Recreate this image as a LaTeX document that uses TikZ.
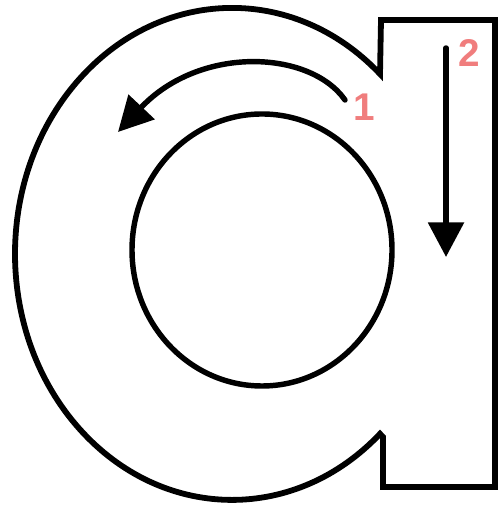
\documentclass[tikz,border=0pt]{standalone}
\usepackage{fontspec}
\setmainfont{Liberation Sans}
\usetikzlibrary{arrows.meta}
\definecolor{numred}{RGB}{240,125,125}

\begin{document}
\begin{tikzpicture}[
  x=0.2mm, y=0.2mm,
  outline/.style={line width=3.3pt, line join=miter, black},
  ring/.style={line width=3.1pt, black},
  arrow/.style={-{Triangle[length=6.9mm, width=7mm]}, line width=3.1pt, black},
  num/.style={text=numred, font=\fontsize{22pt}{22pt}\selectfont\bfseries, inner sep=0pt},
]
  \useasboundingbox (0,0) rectangle (498,505);

  % Letter outline
  \draw[outline] (380,431) arc[start angle=47, end angle=313, x radius=217, y radius=246]
    -- (383,68) -- (383,18) -- (495,18) -- (495,485) -- (381,485) -- cycle;

  % Inner bowl
  \draw[ring] (262,255) ellipse[x radius=130, y radius=136];

  % Stroke 1: round the top
  \coordinate (tail1) at (345,405);
  \coordinate (tip1) at (118,373);
  \draw[arrow, line cap=round] (tail1) .. controls (310,455) and (200,460) .. (tip1);
  \node[num] (one) at (364,398) {1};

  % Stroke 2: down the stem
  \coordinate (tail2) at (446,457);
  \coordinate (tip2) at (446,248);
  \draw[arrow, line cap=round] (tail2) -- (tip2);
  \node[num] (two) at (469,452) {2};
\end{tikzpicture}
\end{document}
